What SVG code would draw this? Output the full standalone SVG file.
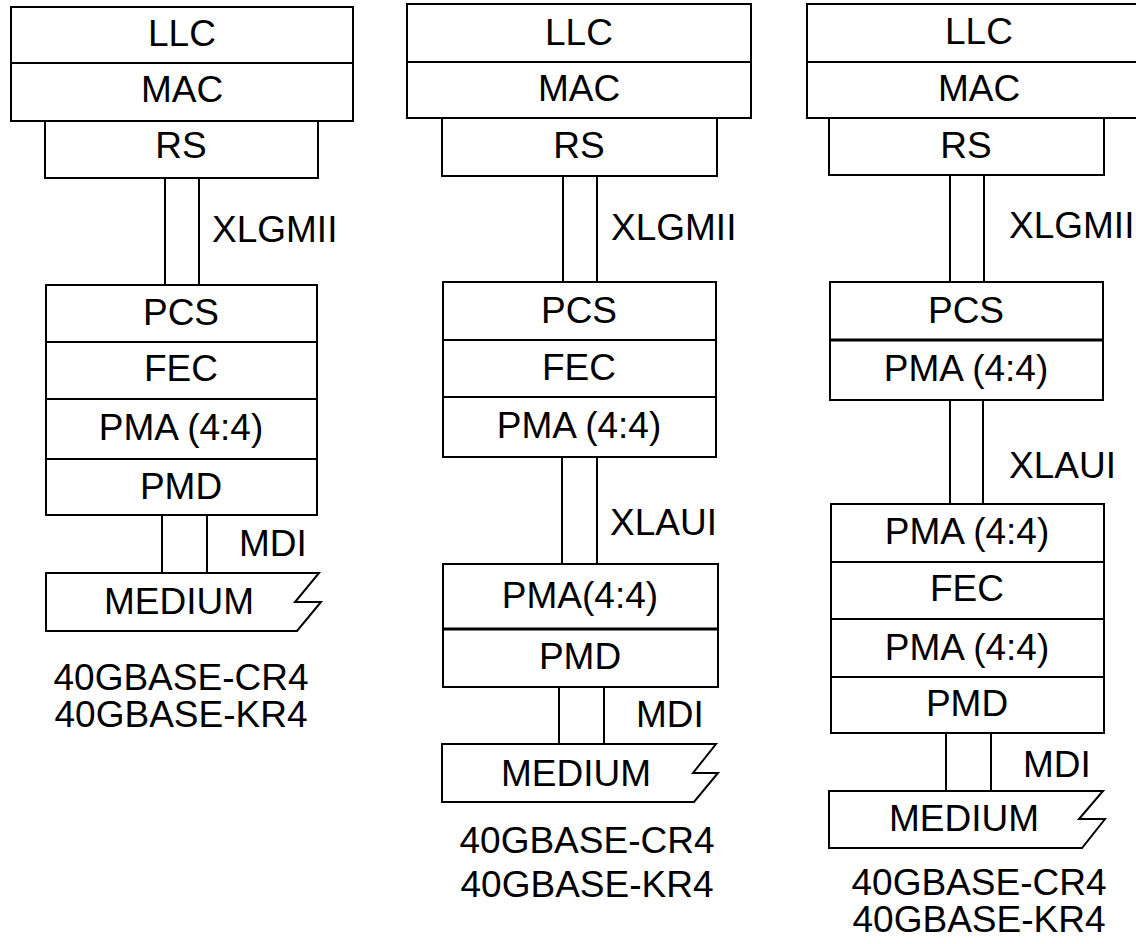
<svg xmlns="http://www.w3.org/2000/svg" width="1136" height="944" viewBox="0 0 1136 944">
<style>
.b{fill:#fff;stroke:#000;stroke-width:2}
.k{stroke:#000;stroke-width:3;fill:none}
.c{stroke:#000;stroke-width:2;fill:none}
text{font-family:"Liberation Sans",Arial,sans-serif;font-size:37px;fill:#000}
.m{text-anchor:middle}
</style>
<rect width="1136" height="944" fill="#fff"/>
<g id="connectors">
<line class="c" x1="165" y1="178" x2="165" y2="285"/><line class="c" x1="199" y1="178" x2="199" y2="285"/>
<line class="c" x1="162" y1="515" x2="162" y2="573"/><line class="c" x1="207" y1="515" x2="207" y2="573"/>
<line class="c" x1="563" y1="176" x2="563" y2="282"/><line class="c" x1="597" y1="176" x2="597" y2="282"/>
<line class="c" x1="562" y1="457" x2="562" y2="564"/><line class="c" x1="597" y1="457" x2="597" y2="564"/>
<line class="c" x1="559" y1="687" x2="559" y2="744"/><line class="c" x1="604" y1="687" x2="604" y2="744"/>
<line class="c" x1="950" y1="175" x2="950" y2="282"/><line class="c" x1="984" y1="175" x2="984" y2="282"/>
<line class="c" x1="950" y1="400" x2="950" y2="504"/><line class="c" x1="983" y1="400" x2="983" y2="504"/>
<line class="c" x1="946" y1="733" x2="946" y2="791"/><line class="c" x1="991" y1="733" x2="991" y2="791"/>
<text x="212" y="242">XLGMII</text>
<text x="239" y="556">MDI</text>
<text x="611" y="240">XLGMII</text>
<text x="610" y="535">XLAUI</text>
<text x="636" y="727">MDI</text>
<text x="1009" y="238">XLGMII</text>
<text x="1009" y="478">XLAUI</text>
<text x="1023" y="777">MDI</text>
</g>
<!-- Column 1 -->
<g id="c1-llc"><rect class="b" x="11" y="7" width="342" height="56"/><text class="m" x="182" y="46">LLC</text></g>
<g id="c1-mac"><rect class="b" x="11" y="63" width="342" height="58"/><text class="m" x="182" y="102">MAC</text></g>
<g id="c1-rs"><rect class="b" x="45" y="121" width="273" height="57"/><text class="m" x="181" y="158">RS</text></g>
<g id="c1-pcs"><rect class="b" x="46" y="285" width="271" height="57"/><text class="m" x="181" y="325">PCS</text></g>
<g id="c1-fec"><rect class="b" x="46" y="342" width="271" height="57"/><text class="m" x="181" y="381">FEC</text></g>
<g id="c1-pma"><rect class="b" x="46" y="399" width="271" height="60"/><text class="m" x="181" y="440">PMA (4:4)</text></g>
<g id="c1-pmd"><rect class="b" x="46" y="459" width="271" height="56"/><text class="m" x="181" y="499">PMD</text></g>
<g id="c1-medium"><path class="b" d="M46,573 H319 L295,602 H321 L297,631 H46 Z"/><text class="m" x="179" y="614">MEDIUM</text></g>
<g id="c1-label"><text class="m" x="181" y="690">40GBASE-CR4</text><text class="m" x="181" y="727">40GBASE-KR4</text></g>
<!-- Column 2 -->
<g id="c2-llc"><rect class="b" x="407" y="4" width="344" height="58"/><text class="m" x="579" y="45">LLC</text></g>
<g id="c2-mac"><rect class="b" x="407" y="62" width="344" height="56"/><text class="m" x="579" y="101">MAC</text></g>
<g id="c2-rs"><rect class="b" x="442" y="118" width="275" height="58"/><text class="m" x="579" y="158">RS</text></g>
<g id="c2-pcs"><rect class="b" x="443" y="282" width="273" height="58"/><text class="m" x="579" y="323">PCS</text></g>
<g id="c2-fec"><rect class="b" x="443" y="340" width="273" height="57"/><text class="m" x="579" y="380">FEC</text></g>
<g id="c2-pma"><rect class="b" x="443" y="397" width="273" height="60"/><text class="m" x="579" y="438">PMA (4:4)</text></g>
<g id="c2-pma2"><rect class="b" x="443" y="564" width="275" height="65"/><text class="m" x="580" y="608">PMA(4:4)</text></g>
<g id="c2-pmd"><rect class="b" x="443" y="629" width="275" height="58"/><line class="k" x1="443" y1="629" x2="718" y2="629"/><text class="m" x="580" y="669">PMD</text></g>
<g id="c2-medium"><path class="b" d="M442,744 H716 L693,773 H718 L694,802 H442 Z"/><text class="m" x="576" y="786">MEDIUM</text></g>
<g id="c2-label"><text class="m" x="587" y="853">40GBASE-CR4</text><text class="m" x="587" y="897">40GBASE-KR4</text></g>
<!-- Column 3 -->
<g id="c3-llc"><rect class="b" x="807" y="4" width="344" height="58"/><text class="m" x="979" y="44">LLC</text></g>
<g id="c3-mac"><rect class="b" x="807" y="62" width="344" height="56"/><text class="m" x="979" y="101">MAC</text></g>
<g id="c3-rs"><rect class="b" x="829" y="118" width="275" height="57"/><text class="m" x="966" y="158">RS</text></g>
<g id="c3-pcs"><rect class="b" x="830" y="282" width="273" height="58"/><text class="m" x="966" y="323">PCS</text></g>
<g id="c3-pma"><rect class="b" x="830" y="340" width="273" height="60"/><line class="k" x1="830" y1="340" x2="1103" y2="340"/><text class="m" x="966" y="381">PMA (4:4)</text></g>
<g id="c3-pma2"><rect class="b" x="831" y="504" width="273" height="58"/><text class="m" x="967" y="544">PMA (4:4)</text></g>
<g id="c3-fec"><rect class="b" x="831" y="562" width="273" height="57"/><text class="m" x="967" y="601">FEC</text></g>
<g id="c3-pma3"><rect class="b" x="831" y="619" width="273" height="58"/><text class="m" x="967" y="660">PMA (4:4)</text></g>
<g id="c3-pmd"><rect class="b" x="831" y="677" width="273" height="56"/><text class="m" x="967" y="716">PMD</text></g>
<g id="c3-medium"><path class="b" d="M829,791 H1103 L1079,819 H1105 L1082,848 H829 Z"/><text class="m" x="964" y="831">MEDIUM</text></g>
<g id="c3-label"><text class="m" x="979" y="895">40GBASE-CR4</text><text class="m" x="979" y="932">40GBASE-KR4</text></g>
</svg>
